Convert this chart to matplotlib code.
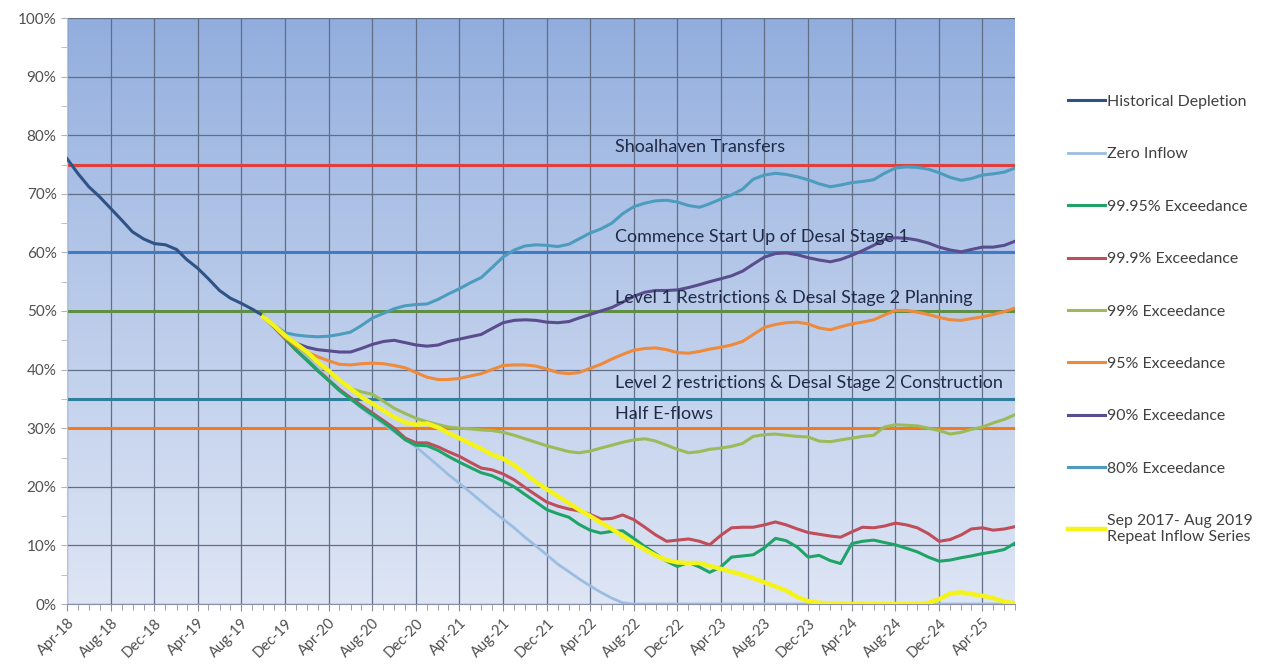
import numpy as np
import pandas as pd
import matplotlib
matplotlib.use('Agg')
import matplotlib.pyplot as plt
import matplotlib.dates as mdates
from matplotlib.ticker import MultipleLocator, PercentFormatter

plt.rcParams['font.family'] = ['Lato', 'DejaVu Sans']

# months Apr-18 .. Jul-25
months = pd.date_range('2018-04-01', periods=88, freq='MS')
hist_months = months[:19]      # Apr-18 .. Oct-19
proj_months = months[18:]      # Oct-19 .. Jul-25

historical = [76, 73.5, 71.2, 69.5, 67.5, 65.5, 63.5, 62.3, 61.5, 61.3,
              60.5, 58.8, 57.3, 55.5, 53.5, 52.2, 51.3, 50.3, 49.2]

zero_inflow = [49, 47.3, 45.6, 43.8, 42, 40.2, 38.4, 36.7, 35, 33.5,
               32, 30.7, 29.4, 28.1, 26.8, 25.2, 23.6, 22.1, 20.6, 19.1,
               17.5, 16, 14.5, 13, 11.4, 9.9, 8.4, 6.8, 5.5, 4.3,
               3.1, 2, 1, 0.2] + [0] * 36

exc_9995 = [49, 47.2, 45.3, 43.3, 41.5, 39.8, 38.1, 36.4, 35, 33.6,
            32.3, 31, 29.6, 28, 27.1, 27, 26.2, 25.2, 24.2, 23.3,
            22.4, 21.9, 21, 20, 18.7, 17.4, 16.1, 15.4, 14.8, 13.6,
            12.6, 12.1, 12.4, 12.5, 11.2, 9.8, 8.6, 7.3, 6.4, 7.1,
            6.3, 5.4, 6.3, 8, 8.2, 8.4, 9.6, 11.2, 10.8, 9.7,
            8, 8.3, 7.4, 6.9, 10.3, 10.7, 10.9, 10.5, 10.1, 9.5,
            8.9, 8, 7.3, 7.5, 7.9, 8.2, 8.6, 8.9, 9.3, 10.4]

exc_999 = [49, 47.2, 45.3, 43.3, 41.6, 39.9, 38.2, 36.6, 35.2, 33.9,
           32.6, 31.3, 30, 28.3, 27.5, 27.5, 26.8, 26, 25.2, 24.2,
           23.2, 22.9, 22.2, 21.2, 19.9, 18.6, 17.4, 16.7, 16.2, 15.9,
           15.3, 14.5, 14.6, 15.2, 14.4, 13.1, 11.8, 10.7, 10.9, 11.1,
           10.7, 10.1, 11.7, 13, 13.1, 13.1, 13.5, 14, 13.5, 12.8,
           12.2, 11.9, 11.6, 11.4, 12.3, 13.1, 13, 13.3, 13.8, 13.5,
           13, 12, 10.7, 11, 11.8, 12.8, 13, 12.6, 12.8, 13.2]

exc_99 = [49, 47.4, 45.7, 44.2, 42.7, 41.1, 39.6, 38.1, 36.8, 36.2,
          35.8, 34.6, 33.4, 32.5, 31.7, 31.1, 30.6, 30.2, 30, 29.9,
          29.7, 29.6, 29.3, 28.8, 28.2, 27.6, 27, 26.5, 26, 25.8,
          26.1, 26.6, 27.1, 27.6, 28, 28.2, 27.8, 27.1, 26.4, 25.8,
          26, 26.4, 26.6, 26.9, 27.4, 28.6, 28.9, 29, 28.8, 28.6,
          28.5, 27.8, 27.7, 28, 28.3, 28.6, 28.8, 30.2, 30.6, 30.5,
          30.4, 30, 29.6, 29, 29.3, 29.8, 30.2, 30.9, 31.5, 32.3]

exc_95 = [49, 47.3, 45.5, 44, 43, 42.2, 41.5, 40.9, 40.8, 41,
          41.1, 41, 40.7, 40.3, 39.5, 38.7, 38.3, 38.3, 38.5, 38.9,
          39.3, 40, 40.7, 40.8, 40.8, 40.6, 40.1, 39.5, 39.3, 39.5,
          40.2, 40.9, 41.8, 42.6, 43.3, 43.6, 43.7, 43.4, 42.9, 42.8,
          43.1, 43.5, 43.8, 44.2, 44.8, 46, 47.2, 47.7, 48, 48.1,
          47.8, 47.1, 46.8, 47.3, 47.8, 48.1, 48.5, 49.3, 50.1, 50.1,
          49.8, 49.4, 48.9, 48.5, 48.4, 48.7, 49, 49.4, 49.9, 50.5]

exc_90 = [49, 47.5, 45.8, 44.5, 43.8, 43.4, 43.2, 43, 43, 43.6,
          44.3, 44.8, 45, 44.6, 44.2, 44, 44.2, 44.8, 45.2, 45.6,
          46, 47, 48, 48.4, 48.5, 48.4, 48.1, 48, 48.2, 48.8,
          49.4, 50, 50.6, 51.5, 52.5, 53.2, 53.5, 53.5, 53.6, 54,
          54.5, 55, 55.5, 56, 56.8, 58, 59.2, 59.8, 59.9, 59.6,
          59.1, 58.7, 58.4, 58.8, 59.5, 60.3, 61.2, 62.2, 62.5, 62.4,
          62.1, 61.6, 60.9, 60.4, 60.1, 60.5, 60.9, 60.9, 61.2, 61.9]

exc_80 = [49, 47.6, 46.3, 45.9, 45.7, 45.6, 45.7, 46, 46.4, 47.5,
          48.8, 49.6, 50.4, 50.9, 51.1, 51.2, 52, 52.9, 53.8, 54.8,
          55.7, 57.4, 59.2, 60.4, 61.1, 61.3, 61.2, 61, 61.4, 62.3,
          63.3, 64, 65, 66.6, 67.8, 68.4, 68.8, 68.9, 68.6, 68,
          67.7, 68.3, 69.1, 69.8, 70.8, 72.5, 73.2, 73.5, 73.3, 72.9,
          72.4, 71.7, 71.2, 71.5, 71.9, 72.1, 72.4, 73.5, 74.4, 74.6,
          74.5, 74.2, 73.6, 72.8, 72.3, 72.6, 73.2, 73.4, 73.7, 74.4]

repeat_inflow = [49, 47.5, 45.8, 44.4, 43, 41.3, 39.8, 38.2, 36.8, 35.3,
                 34.2, 33, 31.9, 31, 30.6, 30.8, 30.1, 29.2, 28.3, 27.4,
                 26.5, 25.5, 24.8, 23.7, 22.3, 20.8, 19.6, 18.4, 17.2, 16.1,
                 15, 13.9, 12.8, 11.6, 10.4, 9.3, 8.3, 7.5, 7.1, 7,
                 7, 6.5, 6, 5.5, 5, 4.4, 3.7, 3, 2.3, 1.2,
                 0.5, 0.2, 0.1, 0, 0, 0, 0, 0, 0, 0,
                 0, 0.2, 0.8, 1.8, 2, 1.7, 1.4, 1, 0.4, 0.1]

trigger_levels = [75, 60, 50, 35, 30]
trigger_labels = ['Shoalhaven Transfers', 'Commence Start Up of Desal Stage 1',
                  'Level 1 Restrictions & Desal Stage 2 Planning',
                  'Level 2 restrictions & Desal Stage 2 Construction',
                  'Half E-flows']
trigger_colors = ['#e0413f', '#3f7cc4', '#5f8f45', '#2f7f9c', '#f07a1e']
trigger_label_offset = [1.6, 1.2, 0.8, 1.4, 1.0]

fig = plt.figure(figsize=(12.63, 6.66), dpi=100)
ax = fig.add_axes([67/1263, 62/666, 948/1263, 586/666])

x0, x1 = mdates.date2num(months[0]), mdates.date2num(months[-1])

# gradient background
grad = np.linspace(0, 1, 256).reshape(256, 1, 1)
top = np.array([0.57, 0.68, 0.87])
bot = np.array([0.87, 0.90, 0.96])
img = top + (bot - top) * grad ** 0.9
ax.imshow(img, extent=[x0, x1, 0, 100], aspect='auto', zorder=0, origin='upper')

ax.grid(True, which='major', color='#626d86', lw=0.9, zorder=1)

for lvl, lab, col, off in zip(trigger_levels, trigger_labels, trigger_colors, trigger_label_offset):
    ax.axhline(lvl, color=col, lw=2.2, zorder=2)
    ax.text(mdates.date2num(pd.Timestamp('2022-06-10')), lvl + off, lab,
            fontsize=13.0, color='#1f2a48', va='bottom', ha='left', zorder=6)

ax.plot(hist_months, historical, color='#2f5386', lw=2.2, zorder=4, label='Historical Depletion')
ax.plot(proj_months, zero_inflow, color='#9cbde2', lw=2, zorder=3, label='Zero Inflow')
ax.plot(proj_months, exc_9995, color='#1fa468', lw=2.2, zorder=4, label='99.95% Exceedance')
ax.plot(proj_months, exc_999, color='#c04d5a', lw=2.2, zorder=3.9, label='99.9% Exceedance')
ax.plot(proj_months, exc_99, color='#9bbb59', lw=2.2, zorder=3.8, label='99% Exceedance')
ax.plot(proj_months, exc_95, color='#ee8a3a', lw=2.2, zorder=4, label='95% Exceedance')
ax.plot(proj_months, exc_90, color='#5a4d8e', lw=2.2, zorder=4, label='90% Exceedance')
ax.plot(proj_months, exc_80, color='#4d9cbe', lw=2.2, zorder=4, label='80% Exceedance')
ax.plot(proj_months, repeat_inflow, color='#f4f41a', lw=3.2, zorder=5,
        label='Sep 2017- Aug 2019\nRepeat Inflow Series')

ax.set_xlim(x0, x1)
ax.set_ylim(0, 100)
ax.xaxis.set_major_locator(mdates.MonthLocator(bymonth=(4, 8, 12)))
ax.xaxis.set_minor_locator(mdates.MonthLocator())
ax.xaxis.set_major_formatter(mdates.DateFormatter('%b-%y'))
ax.yaxis.set_major_locator(MultipleLocator(10))
ax.yaxis.set_minor_locator(MultipleLocator(5))
ax.yaxis.set_major_formatter(PercentFormatter(decimals=0))

for lbl in ax.get_xticklabels():
    lbl.set_rotation(45)
    lbl.set_ha('right')
    lbl.set_rotation_mode('anchor')
ax.tick_params(axis='x', which='major', labelsize=10.5, colors='#8a8fa0', labelcolor='#505050', length=5)
ax.tick_params(axis='x', which='minor', colors='#8a8fa0', length=4)
ax.tick_params(axis='y', which='major', labelsize=11, colors='#b0b4c0', labelcolor='#505050', length=4)
ax.tick_params(axis='y', which='minor', colors='#b0b4c0', length=4)

for s in ['top', 'right']:
    ax.spines[s].set_visible(False)
ax.spines['left'].set_color('#c0c4d0')
ax.spines['bottom'].set_color('#8a8fa8')

leg = fig.legend(loc='upper left', bbox_to_anchor=(1060/1263, 1 - 87/666), frameon=False,
                 fontsize=11.4, labelspacing=2.42, handlelength=2.35, handletextpad=0.1,
                 borderpad=0, labelcolor='#404040')

fig.savefig('out.png', dpi=100)
